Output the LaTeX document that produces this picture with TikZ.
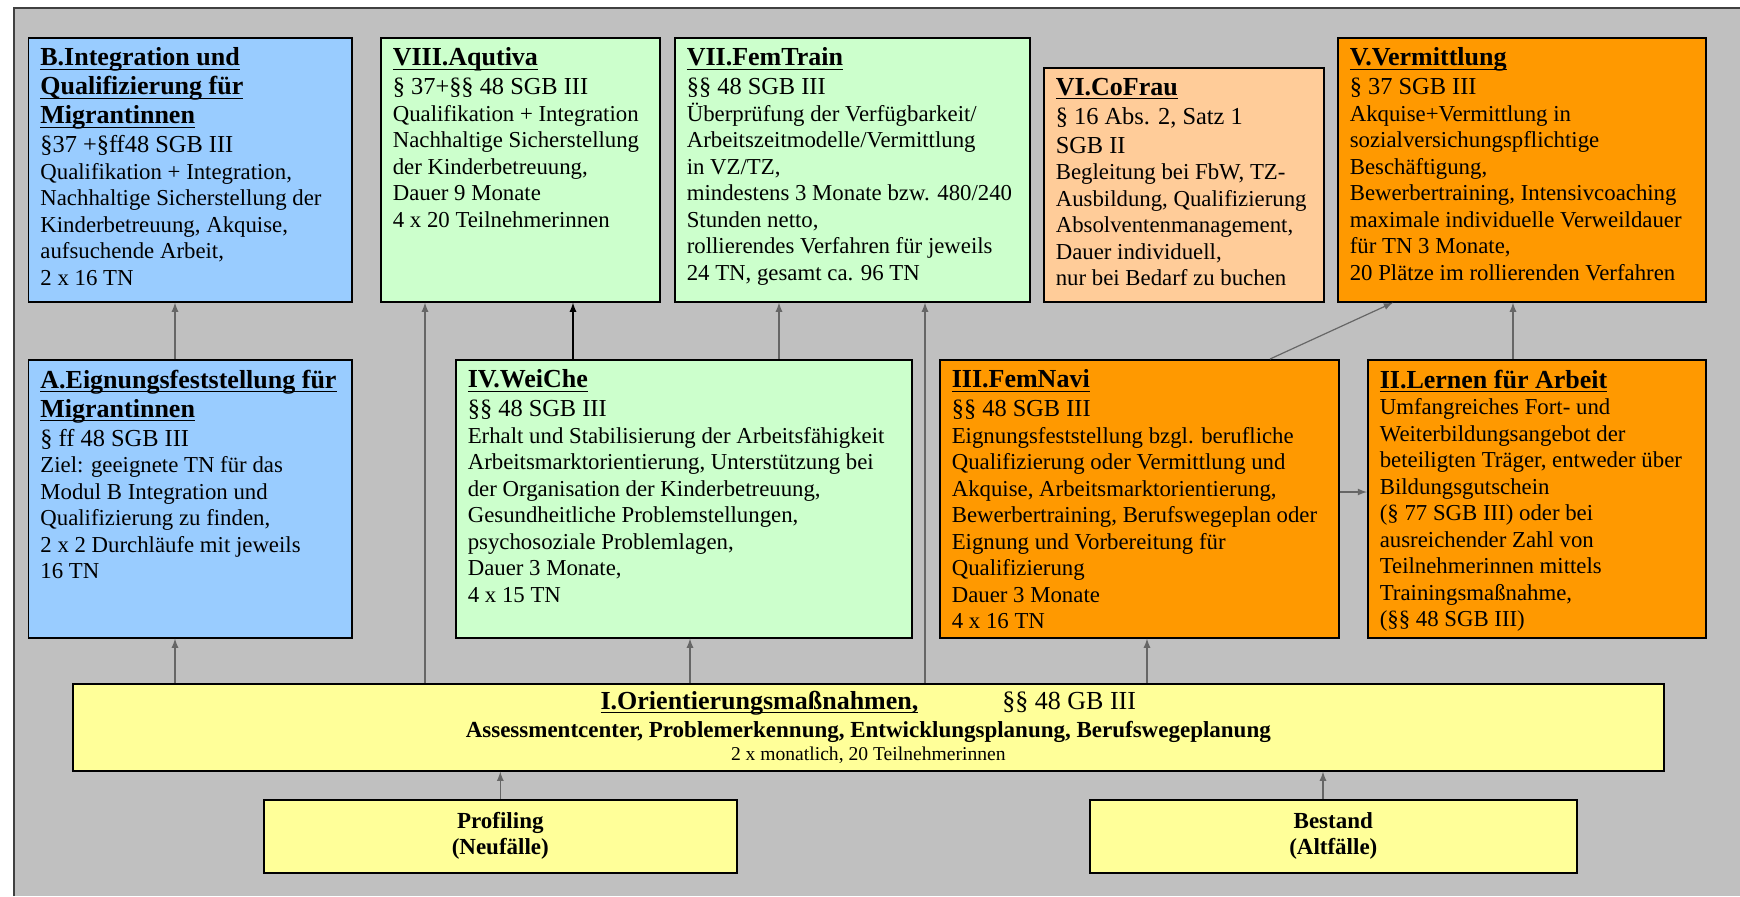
\documentclass[tikz,border=0pt]{standalone}
\usepackage[]{amsmath}
\usepackage{fontspec}
\setmainfont{Liberation Serif}
\usepackage{tikz}

\definecolor{hellblau}{HTML}{99CCFF}
\definecolor{hellgruen}{HTML}{CCFFCC}
\definecolor{pfirsich}{HTML}{FFCC99}
\definecolor{kraeftigorange}{HTML}{FF9900}
\definecolor{hellgelb}{HTML}{FFFF99}
\definecolor{hintergrund}{HTML}{C0C0C0}

\newcommand{\hdfont}{\fontsize{13}{14.5}\selectfont\bfseries}
\newcommand{\lwfont}{\fontsize{12.2}{14.5}\selectfont}
\newcommand{\bdfont}{\fontsize{11.4}{13.25}\selectfont}
\newcommand{\ueber}[1]{\underline{\raisebox{0pt}[\height][0pt]{#1}}}
\newcommand{\kopf}[1]{{\hdfont#1\par}}
\newcommand{\gesetz}[1]{{\lwfont#1\par}}
\newcommand{\inhalt}[1]{{\bdfont#1\par}}
\newcommand{\modtext}[3]{\parbox[c][#2][t]{#1}{\raggedright#3}}

\begin{document}
\begin{tikzpicture}[x=0.5pt,y=-0.5pt,>=latex,
        modul/.style={draw,line width=0.8pt,anchor=north west,inner xsep=6pt,inner ysep=5pt},
        leiste/.style={draw,line width=0.8pt,fill=hellgelb,anchor=north west,align=center,inner sep=0pt},
        pfeil/.style={->,draw=black!60,line width=0.6pt}]
        \path[use as bounding box,fill=white] (0,0) rectangle (1740,896);
        \fill[hintergrund] (13.8,8) rectangle (1740,896);
        \draw[black!75,line width=0.8pt] (13.8,896) -- (13.8,8) -- (1740,8);
        \node[modul,fill=hellblau] (B) at (27.6,37) {\modtext{149.7pt}{122pt}{%
            \kopf{\ueber{B.Integration und}\\\ueber{Qualifizierung für}\\\ueber{Migrantinnen}}
            \gesetz{§37 +§ff48 SGB III}
            \inhalt{Qualifikation + Integration,\\Nachhaltige Sicherstellung der\\Kinderbetreuung, Akquise,\\aufsuchende Arbeit,\\2 x 16 TN}}};
        \node[modul,fill=hellgruen] (VIII) at (380,37) {\modtext{127.5pt}{122pt}{%
            \kopf{\ueber{VIII.Aqutiva}}
            \gesetz{§ 37+§§ 48 SGB III}
            \inhalt{Qualifikation + Integration\\Nachhaltige Sicherstellung\\der Kinderbetreuung,\\Dauer 9 Monate\\4 x 20 Teilnehmerinnen}}};
        \node[modul,fill=hellgruen] (VII) at (674,37) {\modtext{165.5pt}{122pt}{%
            \kopf{\ueber{VII.FemTrain}}
            \gesetz{§§ 48 SGB III}
            \inhalt{Überprüfung der Verfügbarkeit/\\Arbeitszeitmodelle/Vermittlung\\in VZ/TZ,\\mindestens 3 Monate bzw. 480/240\\Stunden netto,\\rollierendes Verfahren für jeweils\\24 TN, gesamt ca. 96 TN}}};
        \node[modul,fill=pfirsich] (VI) at (1043,67) {\modtext{128pt}{107pt}{%
            \kopf{\ueber{VI.CoFrau}}
            \gesetz{§ 16 Abs. 2, Satz 1\\SGB II}
            \inhalt{Begleitung bei FbW, TZ-\\Ausbildung, Qualifizierung\\Absolventenmanagement,\\Dauer individuell,\\nur bei Bedarf zu buchen}}};
        \node[modul,fill=kraeftigorange] (V) at (1337,37) {\modtext{172pt}{122pt}{%
            \kopf{\ueber{V.Vermittlung}}
            \gesetz{§ 37 SGB III}
            \inhalt{Akquise+Vermittlung in\\sozialversichungspflichtige\\Beschäftigung,\\Bewerbertraining, Intensivcoaching\\maximale individuelle Verweildauer\\für TN 3 Monate,\\20 Plätze im rollierenden Verfahren}}};
        \node[modul,fill=hellblau] (A) at (27.6,359) {\modtext{149.7pt}{129pt}{%
            \kopf{\ueber{A.Eignungsfeststellung für}\\\ueber{Migrantinnen}}
            \gesetz{§ ff 48 SGB III}
            \inhalt{Ziel: geeignete TN für das\\Modul B Integration und\\Qualifizierung zu finden,\\2 x 2 Durchläufe mit jeweils\\16 TN}}};
        \node[modul,fill=hellgruen] (IV) at (455,359) {\modtext{216pt}{129pt}{%
            \kopf{\ueber{IV.WeiChe}}
            \gesetz{§§ 48 SGB III}
            \inhalt{Erhalt und Stabilisierung der Arbeitsfähigkeit\\Arbeitsmarktorientierung, Unterstützung bei\\der Organisation der Kinderbetreuung,\\Gesundheitliche Problemstellungen,\\psychosoziale Problemlagen,\\Dauer 3 Monate,\\4 x 15 TN}}};
        \node[modul,fill=kraeftigorange] (III) at (939,359) {\modtext{187.5pt}{129pt}{%
            \kopf{\ueber{III.FemNavi}}
            \gesetz{§§ 48 SGB III}
            \inhalt{Eignungsfeststellung bzgl. berufliche\\Qualifizierung oder Vermittlung und\\Akquise, Arbeitsmarktorientierung,\\Bewerbertraining, Berufswegeplan oder\\Eignung und Vorbereitung für\\Qualifizierung\\Dauer 3 Monate\\4 x 16 TN}}};
        \node[modul,fill=kraeftigorange] (II) at (1367,359) {\modtext{157pt}{129pt}{%
            \kopf{\ueber{II.Lernen für Arbeit}}
            \inhalt{Umfangreiches Fort- und\\Weiterbildungsangebot der\\beteiligten Träger, entweder über\\Bildungsgutschein\\(§ 77 SGB III) oder bei\\ausreichender Zahl von\\Teilnehmerinnen mittels\\Trainingsmaßnahme,\\(§§ 48 SGB III)}}};
        \node[leiste,minimum width=795.5pt,minimum height=43.5pt,font=\fontsize{11.5}{14}\selectfont] (orient) at (72,683)
            {{\fontsize{13}{14}\selectfont\ueber{\bfseries I.Orientierungsmaßnahmen,}\hspace{42pt}§§ 48 GB III}\\
             {\bfseries Assessmentcenter, Problemerkennung, Entwicklungsplanung, Berufswegeplanung}\\[-2.5pt]
             {\fontsize{9.8}{11}\selectfont 2 x monatlich, 20 Teilnehmerinnen}};
        \node[leiste,minimum width=236.5pt,minimum height=36.5pt,font=\fontsize{11.5}{13}\selectfont\bfseries] (prof) at (263,799) {Profiling\\(Neufälle)};
        \node[leiste,minimum width=243.5pt,minimum height=36.5pt,font=\fontsize{11.5}{13}\selectfont\bfseries] (bestand) at (1089,799) {Bestand\\(Altfälle)};
        \draw[pfeil] (orient.north -| 175,0) -- (A.south -| 175,0);
        \draw[pfeil] (A.north -| 175,0) -- (B.south -| 175,0);
        \draw[pfeil] (orient.north -| 425,0) -- (VIII.south -| 425,0);
        \draw[pfeil,draw=black] (IV.north -| 573,0) -- (VIII.south -| 573,0);
        \draw[pfeil] (IV.north -| 779,0) -- (VII.south -| 779,0);
        \draw[pfeil] (orient.north -| 925,0) -- (VII.south -| 925,0);
        \draw[pfeil] (orient.north -| 690,0) -- (IV.south -| 690,0);
        \draw[pfeil] (orient.north -| 1147,0) -- (III.south -| 1147,0);
        \draw[pfeil] (III.north -| 1270,0) -- (V.south -| 1393,0);
        \draw[pfeil] (II.north -| 1513,0) -- (V.south -| 1513,0);
        \draw[pfeil] (III.east |- 0,492) -- (II.west |- 0,492);
        \draw[pfeil] (prof.north) -- (orient.south -| prof.north);
        \draw[pfeil] (bestand.north -| 1323,0) -- (orient.south -| 1323,0);
    \end{tikzpicture}
\end{document}
